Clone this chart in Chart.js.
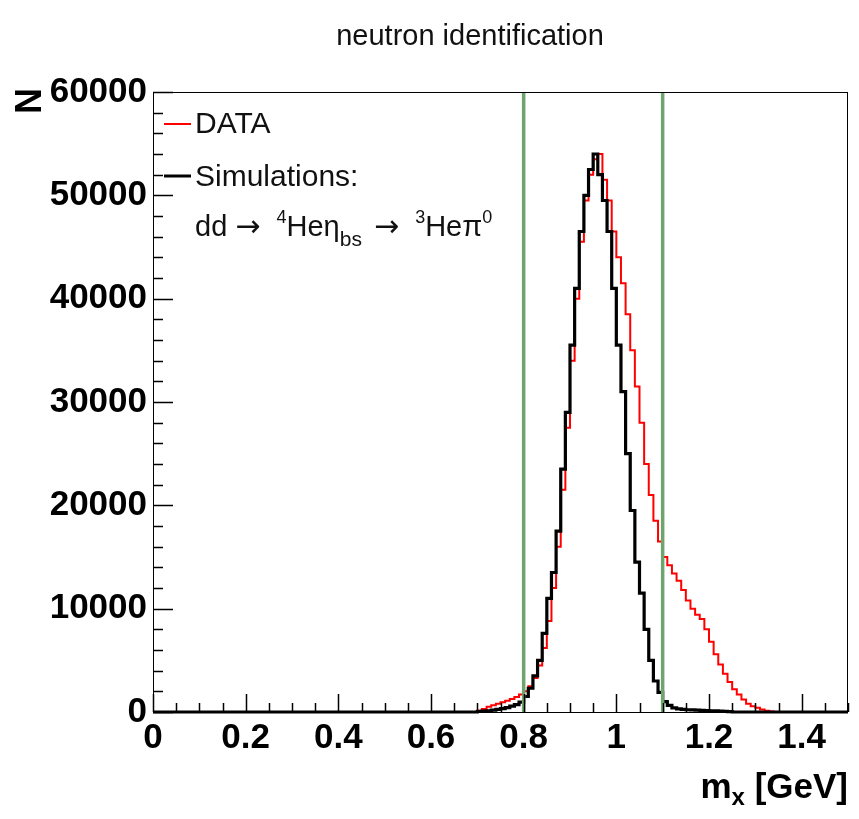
<!DOCTYPE html>
<html>
<head>
<meta charset="utf-8">
<script src="https://cdn.jsdelivr.net/npm/chart.js@4"></script>
<style>
  html, body { margin: 0; padding: 0; background: #ffffff; }
  canvas { display: block; }
</style>
</head>
<body>
<canvas id="c" width="859" height="819"></canvas>
<script>
// ---------------- data ----------------
const chartTitle = "neutron identification";
const xAxisTitle = "m";
const xAxisSub = "x";
const xAxisUnit = " [GeV]";
const yAxisTitle = "N";
const legendLabels = ["DATA", "Simulations:"];

// lower edges of the histogram bins [GeV] (bin width 0.01)
const binLowEdges = [
  0.70,0.71,0.72,0.73,0.74,0.75,0.76,0.77,0.78,0.79,
  0.80,0.81,0.82,0.83,0.84,0.85,0.86,0.87,0.88,0.89,
  0.90,0.91,0.92,0.93,0.94,0.95,0.96,0.97,0.98,0.99,
  1.00,1.01,1.02,1.03,1.04,1.05,1.06,1.07,1.08,1.09,
  1.10,1.11,1.12,1.13,1.14,1.15,1.16,1.17,1.18,1.19,
  1.20,1.21,1.22,1.23,1.24,1.25,1.26,1.27,1.28,1.29,
  1.30,1.31,1.32,1.33,1.34
];
// DATA (red)
const dataCounts = [
  150,300,500,650,800,950,1100,1250,1450,1700,
  2000,2500,3300,4500,6200,8800,12000,16000,21500,27500,
  34000,40000,45500,49500,52000,53500,54000,51500,49500,46500,
  44000,41500,38500,35000,31500,28000,24000,21000,18500,16500,
  15000,14200,13400,12700,11800,10800,10000,9400,9000,8000,
  6800,5600,4600,3700,2900,2200,1700,1200,800,550,
  400,250,120,50,0
];
// Simulation dd -> 4He eta_bs -> 3He n pi0 (black)
const simCounts = [
  50,80,120,180,250,320,420,560,720,950,
  1500,2300,3500,5000,7600,11000,13500,17500,23500,29000,
  35500,41000,46500,50000,52500,54000,52000,49500,46500,41000,
  35500,31000,25000,19500,14500,11500,8000,5000,3000,1900,
  1000,650,400,300,250,220,200,180,160,140,
  120,100,80,60,40,0,0,0,0,0,
  0,0,0,0,0
];
// neutron identification cut lines [GeV]
const cutLines = [0.8, 1.1];

// axis ranges and tick labels
const xMin = 0, xMax = 1.5;
const yMin = 0, yMax = 60000;
const xTickValues = [0, 0.2, 0.4, 0.6, 0.8, 1.0, 1.2, 1.4];
const yTickValues = [0, 10000, 20000, 30000, 40000, 50000, 60000];
const xMinorStep = 0.05;
const yMinorStep = 2000;

// ---------------- helpers ----------------
function histPoints(edges, counts) {
  const pts = [{x: xMin, y: 0}];
  for (let i = 0; i < edges.length; i++) pts.push({x: edges[i], y: counts[i]});
  pts.push({x: xMax, y: 0});
  return pts;
}

const GREEN = 'rgb(110,165,110)';
const FONT = '"Liberation Sans", Arial, Helvetica, sans-serif';
const ARROW_FONT = '"DejaVu Sans", sans-serif';

const datasets = [
  {
    label: legendLabels[0],
    data: histPoints(binLowEdges, dataCounts),
    borderColor: '#ff0000', borderWidth: 2, stepped: 'before',
    pointRadius: 0, fill: false, order: 2, clip: false
  },
  {
    label: legendLabels[1],
    data: histPoints(binLowEdges, simCounts),
    borderColor: '#000000', borderWidth: 3.2, stepped: 'before',
    pointRadius: 0, fill: false, order: 1, clip: false
  }
];
cutLines.forEach((c, i) => {
  datasets.push({
    label: 'cut' + i,
    data: [{x: c, y: yMin}, {x: c, y: yMax}],
    borderColor: GREEN, borderWidth: 3.5, pointRadius: 0, fill: false, order: 0
  });
});

function pieceFont(p) {
  return (p.bold ? 'bold ' : '') + p.size + 'px ' + (p.family || FONT);
}
function drawRich(ctx, x, y, pieces) {
  let cx = x;
  pieces.forEach(p => {
    ctx.font = pieceFont(p);
    ctx.fillText(p.t, cx, y + (p.dy || 0));
    cx += ctx.measureText(p.t).width + (p.gap || 0);
  });
  return cx;
}
function richWidth(ctx, pieces) {
  let w = 0;
  pieces.forEach(p => {
    ctx.font = pieceFont(p);
    w += ctx.measureText(p.t).width + (p.gap || 0);
  });
  return w;
}

const decorPlugin = {
  id: 'decor',
  afterDraw(chart) {
    const ctx = chart.ctx;
    const a = chart.chartArea;
    const xs = chart.scales.x, ys = chart.scales.y;
    ctx.save();
    ctx.strokeStyle = '#000';
    ctx.fillStyle = '#000';
    // frame
    ctx.lineWidth = 1;
    ctx.strokeRect(a.left + 0.5, a.top + 0.5, a.right - a.left - 1, a.bottom - a.top);
    // x ticks (inside, upward)
    ctx.lineWidth = 1.5;
    ctx.beginPath();
    for (let v = xMin; v <= xMax + 1e-9; v += xMinorStep) {
      const px = Math.round(xs.getPixelForValue(v)) + 0.5;
      const major = xTickValues.some(t => Math.abs(t - v) < 1e-6);
      const len = major ? 18 : 9;
      ctx.moveTo(px, a.bottom);
      ctx.lineTo(px, a.bottom - len);
    }
    // y ticks (inside, rightward)
    for (let v = yMin; v <= yMax + 1e-6; v += yMinorStep) {
      const py = Math.round(ys.getPixelForValue(v)) + 0.5;
      const major = yTickValues.some(t => Math.abs(t - v) < 1e-6);
      const len = major ? 20 : 10;
      ctx.moveTo(a.left, py);
      ctx.lineTo(a.left + len, py);
    }
    ctx.stroke();

    // title
    ctx.textAlign = 'center';
    ctx.textBaseline = 'middle';
    ctx.font = '29px ' + FONT;
    ctx.fillStyle = '#111';
    ctx.fillText(chartTitle, 470, 37);

    // y axis title (rotated)
    ctx.save();
    ctx.translate(31, a.top - 4);
    ctx.rotate(-Math.PI / 2);
    ctx.textAlign = 'right';
    ctx.textBaseline = 'middle';
    ctx.font = 'bold 36px ' + FONT;
    ctx.fillStyle = '#000';
    ctx.fillText(yAxisTitle, 0, 0);
    ctx.restore();

    // x axis title
    ctx.textAlign = 'left';
    ctx.textBaseline = 'middle';
    ctx.fillStyle = '#000';
    const xt = [
      {t: xAxisTitle, size: 35, bold: true},
      {t: xAxisSub, size: 24, bold: true, dy: 10},
      {t: xAxisUnit, size: 35, bold: true}
    ];
    const wT = richWidth(ctx, xt);
    drawRich(ctx, a.right - wT, 788, xt);

    // legend
    const lx0 = a.left + 11, lx1 = a.left + 38, tx = a.left + 42;
    ctx.lineWidth = 2;
    ctx.strokeStyle = '#ff0000';
    ctx.beginPath(); ctx.moveTo(lx0, 124); ctx.lineTo(lx1, 124); ctx.stroke();
    ctx.lineWidth = 3;
    ctx.strokeStyle = '#000';
    ctx.beginPath(); ctx.moveTo(lx0, 176); ctx.lineTo(lx1, 176); ctx.stroke();
    ctx.fillStyle = '#111';
    drawRich(ctx, tx, 125, [{t: legendLabels[0], size: 30}]);
    drawRich(ctx, tx, 178, [{t: legendLabels[1], size: 30}]);
    drawRich(ctx, tx, 228, [
      {t: 'dd ', size: 29},
      {t: '\u2192', size: 30, family: ARROW_FONT, gap: 8},
      {t: ' ', size: 29},
      {t: '4', size: 18, dy: -10},
      {t: 'He\u03b7', size: 29},
      {t: 'bs', size: 21, dy: 12},
      {t: ' ', size: 29, gap: 4},
      {t: '\u2192', size: 30, family: ARROW_FONT, gap: 8},
      {t: ' ', size: 29},
      {t: '3', size: 18, dy: -10},
      {t: 'He\u03c0', size: 29},
      {t: '0', size: 18, dy: -10}
    ]);
    ctx.restore();
  }
};

const ctx = document.getElementById('c').getContext('2d');
new Chart(ctx, {
  type: 'line',
  data: { datasets },
  options: {
    responsive: false,
    animation: false,
    events: [],
    layout: { padding: { left: 0, right: 11, top: 92, bottom: 0 } },
    plugins: {
      legend: { display: false },
      title: { display: false },
      tooltip: { enabled: false }
    },
    elements: { line: { tension: 0, borderJoinStyle: 'miter' } },
    scales: {
      x: {
        type: 'linear', min: xMin, max: xMax,
        afterBuildTicks: s => { s.ticks = xTickValues.map(v => ({value: v})); },
        afterFit: s => { s.height = 107; },
        grid: { display: false, drawTicks: false },
        border: { display: false },
        ticks: {
          color: '#000', padding: 5, maxRotation: 0, autoSkip: false,
          font: { family: FONT, size: 35, weight: 'bold' },
          callback: v => String(Math.round(v * 10) / 10)
        }
      },
      y: {
        type: 'linear', min: yMin, max: yMax,
        afterBuildTicks: s => { s.ticks = yTickValues.map(v => ({value: v})); },
        afterFit: s => { s.width = 153; },
        grid: { display: false, drawTicks: false },
        border: { display: false },
        ticks: {
          color: '#000', padding: 6, autoSkip: false,
          font: { family: FONT, size: 35, weight: 'bold' },
          callback: v => String(v)
        }
      }
    }
  },
  plugins: [decorPlugin]
});
</script>
</body>
</html>
